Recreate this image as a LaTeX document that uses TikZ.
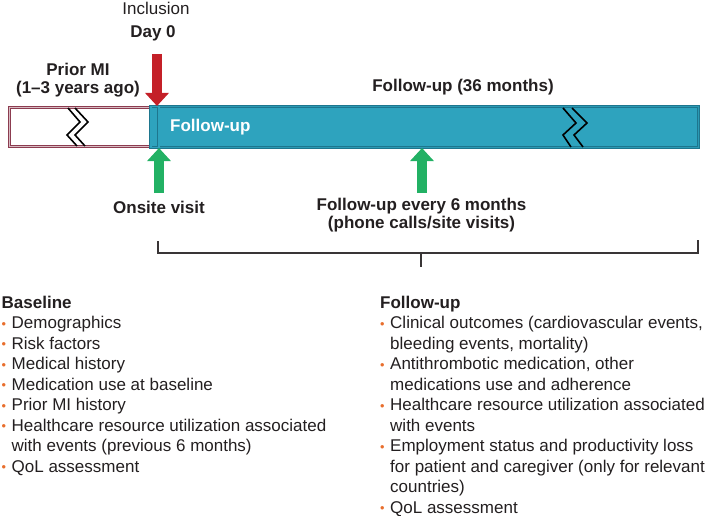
\documentclass[tikz,border=0pt]{standalone}
\usepackage{fontspec}
\setmainfont{Liberation Sans}
\definecolor{txtgray}{RGB}{35,31,32}
\definecolor{priorred}{RGB}{140,60,80}
\definecolor{futeal}{RGB}{46,163,190}
\definecolor{futealdark}{RGB}{30,118,142}
\definecolor{dayred}{RGB}{196,32,40}
\definecolor{visitgreen}{RGB}{34,177,100}
\definecolor{bulorange}{RGB}{232,110,45}
\usetikzlibrary{arrows.meta, positioning}

\newcommand{\bul}{\makebox[10pt][l]{\textcolor{bulorange}{\raisebox{0.5pt}{\scalebox{0.75}{•}}}}}
\newcommand{\ind}{\hspace*{10pt}}

\begin{document}
\begin{tikzpicture}[x=1pt, y=-1pt,
  lbl/.style={text=txtgray, inner sep=0pt, font=\fontsize{17}{17.5}\selectfont},
  bold/.style={lbl, font=\fontsize{17}{17.5}\selectfont\bfseries},
  list/.style={lbl, anchor=north west, align=left, font=\fontsize{17}{20.45}\selectfont},
  fat arrow/.style={line width=10.5pt, -{Triangle[length=13pt, width=23pt]}},
  zigzag/.style={line width=1.6pt, line join=miter},
  bracket/.style={draw=txtgray!90, line width=1.8pt}]
  \useasboundingbox (0,0) rectangle (709,516);

  % timeline bar
  \node[draw=priorred, line width=0.9pt, double=priorred!35, double distance=1pt, fill=white,
        minimum width=142pt, minimum height=39pt, anchor=north west, inner sep=0pt] (prior) at (9,107) {};
  \node[draw=futealdark, line width=1pt, double=futeal!80!futealdark, double distance=1pt, fill=futeal,
        minimum width=548pt, minimum height=41pt, anchor=north west, inner sep=0pt] (fu) at (150,106) {};
  \node[draw=futealdark, line width=0.7pt, double=futeal, double distance=1.4pt,
        minimum width=8pt, minimum height=41pt, anchor=north west, inner sep=0pt] (strip) at (150.5,106) {};
  \node[bold, text=white, anchor=west] (futxt) at (170,127) {Follow-up};

  % breaks in the bar
  \draw[zigzag, black] (68,108) -- (80,122) -- (67,135) -- (77,146)
                       (75,108) -- (88,122) -- (75,135) -- (85,146);
  \draw[zigzag, black] (563,108) -- (576,123) -- (563,135) -- (571,147)
                       (572,108) -- (587,123) -- (574,135) -- (583,147);

  % labels above
  \node[lbl] (incl) at (156,8) {Inclusion};
  \node[bold] (day0) at (153,33) {Day 0};
  \node[bold, align=center] (priormi) at (78,80) {Prior MI\\(1–3 years ago)};
  \node[bold] (fu36) at (463,87) {Follow-up (36 months)};

  % arrows
  \coordinate (redtop) at (157,54);
  \draw[fat arrow, dayred] (redtop) -- (redtop |- fu.north);
  \coordinate (onsitebot) at (159,193);
  \coordinate (sixbot) at (422,193);
  \draw[fat arrow, visitgreen] (onsitebot) -- (onsitebot |- fu.south);
  \draw[fat arrow, visitgreen] (sixbot) -- (sixbot |- fu.south);

  % labels below
  \node[bold] (onsite) at (159,207) {Onsite visit};
  \node[bold, align=center] (six) at (421.5,215) {Follow-up every 6 months\\(phone calls/site visits)};

  % bracket
  \coordinate (brl) at (158,253);
  \coordinate (brr) at (698,253);
  \coordinate (brm) at (421,253);
  \draw[bracket] ([yshift=12pt]brl) -- (brl) -- (brr) -- ([yshift=13pt]brr);
  \draw[bracket] (brm) -- ++(0,14);

  % lists
  \node[list] (baseline) at (1.5,296) {\textbf{Baseline}\\
    \bul Demographics\\
    \bul Risk factors\\
    \bul Medical history\\
    \bul Medication use at baseline\\
    \bul Prior MI history\\
    \bul Healthcare resource utilization associated\\
    \ind with events (previous 6 months)\\
    \bul QoL assessment};
  \node[list] (fulist) at (380,296) {\textbf{Follow-up}\\
    \bul Clinical outcomes (cardiovascular events,\\
    \ind bleeding events, mortality)\\
    \bul Antithrombotic medication, other\\
    \ind medications use and adherence\\
    \bul Healthcare resource utilization associated\\
    \ind with events\\
    \bul Employment status and productivity loss\\
    \ind for patient and caregiver (only for relevant\\
    \ind countries)\\
    \bul QoL assessment};
\end{tikzpicture}
\end{document}
